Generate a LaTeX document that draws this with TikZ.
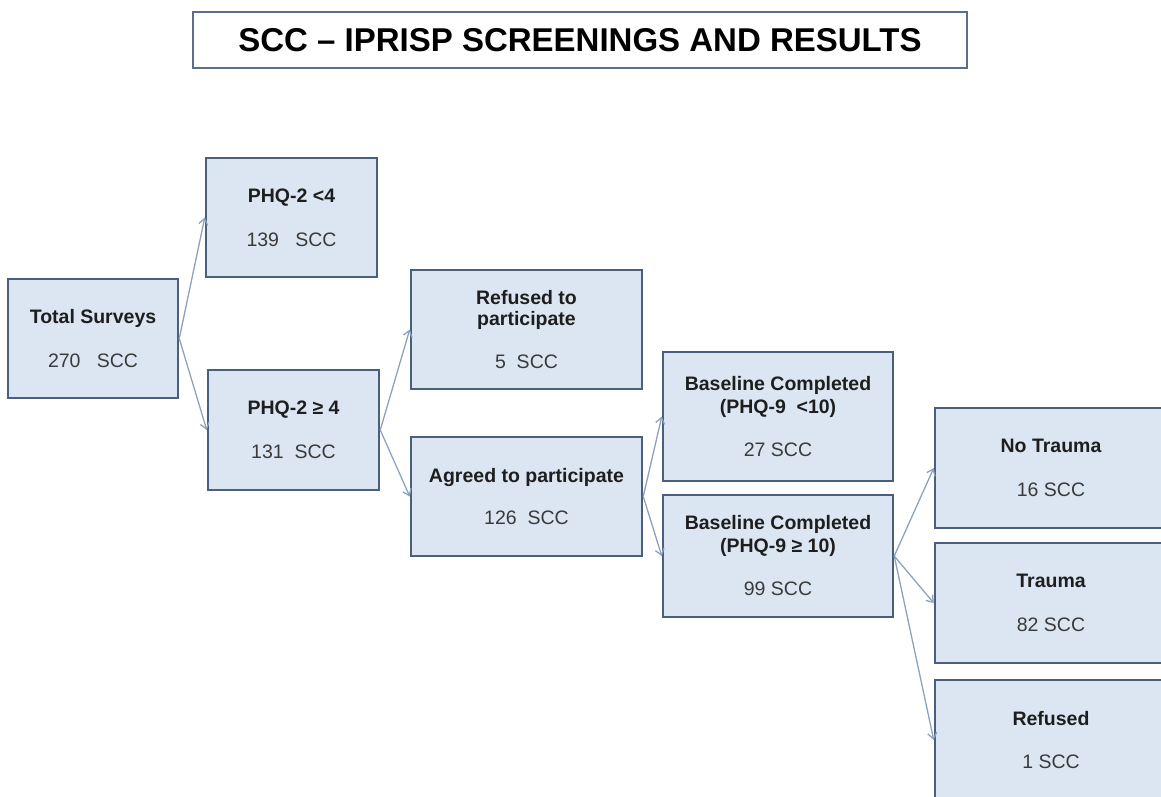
\documentclass[tikz,border=0pt]{standalone}
\usepackage{fontspec}
\setmainfont{Liberation Sans}
\usetikzlibrary{arrows.meta}
\definecolor{boxfill}{HTML}{DCE6F2}
\definecolor{boxline}{HTML}{4A5E7E}
\definecolor{titleline}{HTML}{5B6E8C}
\definecolor{arrowc}{HTML}{8DA2BF}
\definecolor{hdc}{HTML}{1E1E1E}
\definecolor{numc}{HTML}{3A3A3A}
\newcommand{\nm}[1]{{\mdseries\color{numc}#1}}
\begin{document}
\begin{tikzpicture}[x=1pt,y=-1pt,
  flowbox/.style={draw=boxline, line width=2.5pt, fill=boxfill, inner sep=0pt,
    align=center, font=\bfseries\fontsize{19.5}{21}\selectfont, text=hdc},
  conn/.style={draw=arrowc, line width=1.3pt, -{Straight Barb[length=6pt,width=9pt]}},
  titlebox/.style={draw=titleline, line width=2pt, fill=white, inner sep=0pt,
    font=\bfseries\fontsize{33}{33}\selectfont, text=black}]
\useasboundingbox (0,0) rectangle (1161,796);
\clip (0,0) rectangle (1161,796);

\node[titlebox, minimum width=774pt, minimum height=56pt] (title) at (580,40)
  {SCC – IPRISP SCREENINGS AND RESULTS};

\node[flowbox, minimum width=170pt, minimum height=119pt] (total) at (93,338.5)
  {Total Surveys\\[23pt]\nm{270\ \ \ SCC}};
\node[flowbox, minimum width=171pt, minimum height=119pt] (p1) at (291.5,217.5)
  {PHQ-2 <4\\[23pt]\nm{139\ \ \ SCC}};
\node[flowbox, minimum width=171pt, minimum height=120pt] (p2) at (293.5,430)
  {PHQ-2 ≥ 4\\[23pt]\nm{131\ \ SCC}};
\node[flowbox, minimum width=231pt, minimum height=119pt] (ref) at (526.5,329.5)
  {Refused to\\participate\\[22pt]\nm{5\ \ SCC}};
\node[flowbox, minimum width=231pt, minimum height=119pt] (agr) at (526.5,496.5)
  {Agreed to participate\\[21pt]\nm{126\ \ SCC}};
\node[flowbox, minimum width=230pt, minimum height=129pt] (b1) at (778,416.5)
  {Baseline Completed\\[2pt](PHQ-9\ \ <10)\\[22pt]\nm{27 SCC}};
\node[flowbox, minimum width=230pt, minimum height=122pt] (b2) at (778,556)
  {Baseline Completed\\[2pt](PHQ-9 ≥ 10)\\[22pt]\nm{99 SCC}};
\node[flowbox, minimum width=232pt, minimum height=120pt] (nt) at (1051,468)
  {No Trauma\\[23pt]\nm{16 SCC}};
\node[flowbox, minimum width=232pt, minimum height=120pt] (tr) at (1051,603)
  {Trauma\\[23pt]\nm{82 SCC}};
\node[flowbox, minimum width=232pt, minimum height=120pt] (rf) at (1051,740)
  {Refused\\[22pt]\nm{1 SCC}};

\draw[conn] (total.east) -- (p1.west);
\draw[conn] (total.east) -- (p2.west);
\draw[conn] (p2.east) -- (ref.west);
\draw[conn] (p2.east) -- (agr.west);
\draw[conn] (agr.east) -- (b1.west);
\draw[conn] (agr.east) -- (b2.west);
\draw[conn] (b2.east) -- (nt.west);
\draw[conn] (b2.east) -- (tr.west);
\draw[conn] (b2.east) -- (rf.west);
\end{tikzpicture}
\end{document}
